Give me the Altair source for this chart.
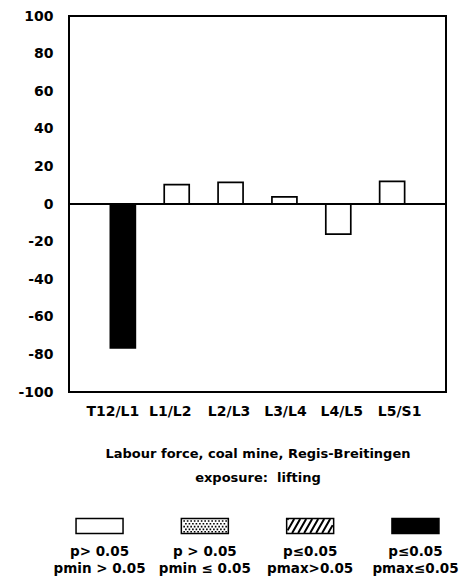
import altair as alt
import pandas as pd

# ---------------- data ----------------
categories = ["T12/L1", "L1/L2", "L2/L3", "L3/L4", "L4/L5", "L5/S1"]
values = [-76.5, 10.3, 11.5, 3.8, -16.0, 12.0]
significance = ["sig_all", "ns", "ns", "ns", "ns", "ns"]
label_shift = [-10, -6.5, -1.5, 1, 3.5, 7.5]

y_ticks = [-100, -80, -60, -40, -20, 0, 20, 40, 60, 80, 100]

legend_keys = ["ns", "ns_pmin", "sig_pmax", "sig_all"]
legend_fill = ["white", "white", "white", "black"]
legend_text = [
    "p> 0.05\npmin > 0.05",
    "p > 0.05\npmin ≤ 0.05",
    "p≤0.05\npmax>0.05",
    "p≤0.05\npmax≤0.05",
]

title_lines = ["Labour force, coal mine, Regis-Breitingen", "exposure:\u00a0 lifting"]

# ---------------- style ----------------
FONT = "DejaVu Sans"
W, H = 377, 376
BW, BH = 47, 15
BOX_Y = 30
TXT_Y = 49

u = 2.0 / BW
hh = BH / 2 * u
box_path = f"M-1,{-hh:.4f}L1,{-hh:.4f}L1,{hh:.4f}L-1,{hh:.4f}Z"

dots = []
for r, yy in enumerate([-5.8, -3.0, -0.2, 2.6, 5.0]):
    xx = -21.5 + (0 if r % 2 == 0 else 1.75)
    while xx <= 20.8:
        dots.append(f"M{xx*u:.4f},{yy*u:.4f}h{1.6*u:.4f}v{1.6*u:.4f}h{-1.6*u:.4f}Z")
        xx += 3.5
stipple_path = "".join(dots)

segs = []
x0 = -30.0
while x0 < 24:
    t0 = max(0.0, (-22.5 - x0) / 8)
    t1 = min(1.0, (22.5 - x0) / 8)
    if t1 > t0:
        xa, ya = x0 + 8 * t0, 7 - 14 * t0
        xb, yb = x0 + 8 * t1, 7 - 14 * t1
        segs.append(f"M{xa*u:.4f},{ya*u:.4f}L{xb*u:.4f},{yb*u:.4f}")
    x0 += 6
hatch_path = "".join(segs)

# ---------------- main chart ----------------
df = pd.DataFrame({"segment": categories, "value": values, "sig": significance})
conds = [{"test": f"datum.value === '{c}'", "value": s} for c, s in zip(categories, label_shift)]

x_axis = alt.Axis(
    title=title_lines, labelAngle=0, ticks=False, domain=False,
    labelFont=FONT, labelFontSize=14, labelFontWeight="bold", labelColor="black",
    labelPadding=12, labelOffset={"condition": conds, "value": 0},
    titleFont=FONT, titleFontSize=13, titleFontWeight="bold", titleColor="black",
    titlePadding=29, titleLineHeight=24,
)
y_axis = alt.Axis(
    values=y_ticks, title=None, grid=False, domain=False, ticks=False,
    labelFont=FONT, labelFontSize=14, labelFontWeight="bold", labelColor="black",
    labelPadding=16, minExtent=60, labelOverlap=False, labelBound=False,
    labelExpr="datum.value + ''",
)
y_scale = alt.Scale(domain=[-100, 100], nice=False)

fill_scale = alt.Scale(domain=legend_keys, range=legend_fill)

bars = alt.Chart(df).mark_bar(stroke="black", strokeWidth=1.7, opacity=1).encode(
    x=alt.X("segment:N", sort=categories,
            scale=alt.Scale(paddingInner=0.536, paddingOuter=0.768), axis=x_axis),
    y=alt.Y("value:Q", scale=y_scale, axis=y_axis),
    fill=alt.Fill("sig:N", scale=fill_scale, legend=None),
)
zero = alt.Chart(pd.DataFrame({"zero": [0]})).mark_rule(color="black", strokeWidth=2).encode(
    y=alt.Y("zero:Q", scale=y_scale, axis=y_axis)
)
main = alt.layer(bars, zero).properties(
    width=W, height=H, view=alt.ViewBackground(stroke="black", strokeWidth=2)
)

# ---------------- legend ----------------
leg_df = pd.DataFrame({"key": legend_keys, "text": legend_text})
lx = alt.X("key:N", scale=alt.Scale(type="point", domain=legend_keys, padding=0.29), axis=None)
base = alt.Chart(leg_df)
boxes = base.mark_point(
    shape=box_path, size=BW * BW, filled=True, stroke="black", strokeWidth=1.5, opacity=1
).encode(x=lx, y=alt.value(BOX_Y), fill=alt.Fill("key:N", scale=fill_scale, legend=None))
stipple = base.transform_filter(alt.datum.key == "ns_pmin").mark_point(
    shape=stipple_path, size=BW * BW, filled=True, fill="black", strokeWidth=0, opacity=1
).encode(x=lx, y=alt.value(BOX_Y))
hatch = base.transform_filter(alt.datum.key == "sig_pmax").mark_point(
    shape=hatch_path, size=BW * BW, filled=False, stroke="black", strokeWidth=2, opacity=1
).encode(x=lx, y=alt.value(BOX_Y))
texts = base.mark_text(
    font=FONT, fontSize=13.5, fontWeight="bold", lineBreak="\n", lineHeight=17,
    baseline="top", color="black",
).encode(x=lx, y=alt.value(TXT_Y), text="text:N")

legend = alt.layer(boxes, stipple, hatch, texts).properties(
    width=W, height=75, view=alt.ViewBackground(stroke="transparent")
)

chart = alt.vconcat(main, legend, spacing=10).properties(
    padding={"left": 0, "top": 0, "right": 0, "bottom": 0}
).configure(font=FONT)

chart.save("out.html", embed_options={"renderer": "svg", "actions": False})
